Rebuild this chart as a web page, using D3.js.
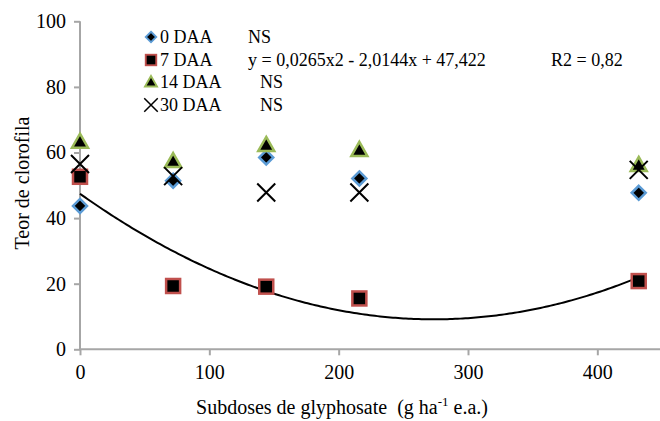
<!DOCTYPE html>
<html>
<head>
<meta charset="utf-8">
<script src="https://cdn.jsdelivr.net/npm/d3@7"></script>
<style>
  body { margin: 0; background: #fff; }
</style>
</head>
<body>
<svg id="chart" width="660" height="421"></svg>
<script>
// doses (g ha-1 e.a.)
const doses = [0, 72, 144, 216, 432];
const daa0 = [43.7, 51.4, 58.5, 52.1, 47.7];
const daa7 = [52.6, 19.3, 19.1, 15.5, 20.8];
const daa14 = [63.3, 57.4, 62.3, 60.8, 56.2];
const daa30 = [56.5, 52.8, 47.8, 47.8, 54.7];
const xTicks = [0, 100, 200, 300, 400];
const yTicks = [0, 20, 40, 60, 80, 100];
// trend for 7 DAA, x given as % of 720 g
const fit = { a: 0.0265, b: -2.0144, c: 47.422, unit: 7.2 };

const serif = "'Liberation Serif', 'DejaVu Serif', serif";

const svg = d3.select('#chart')
  .style('font-family', serif);
const x = d3.scaleLinear().domain([0, 450]).range([80, 662]);
const y = d3.scaleLinear().domain([0, 100]).range([349.3, 21.3]);

const axisColor = '#a6a6a6';

// axes
const xAxis = svg.append('g')
  .attr('transform', 'translate(0,349.3)')
  .call(d3.axisBottom(x).tickValues(xTicks).tickSize(6).tickPadding(10));
const yAxis = svg.append('g')
  .attr('transform', 'translate(80,0)')
  .call(d3.axisLeft(y).tickValues(yTicks).tickSize(6).tickPadding(8));
[xAxis, yAxis].forEach((g) => {
  g.attr('font-family', serif).attr('font-size', 20);
  g.selectAll('path, line').attr('stroke', axisColor).attr('stroke-width', 2);
  g.selectAll('text').attr('fill', '#000');
});
xAxis.select('.domain').attr('d', `M${x(0)},0H660`);
yAxis.select('.domain').attr('d', `M0,${y(0)}V${y(100)}`);

// axis titles
svg.append('text')
  .attr('x', 342).attr('y', 414)
  .attr('text-anchor', 'middle')
  .attr('font-family', serif)
  .attr('font-size', 20)
  .html('Subdoses de glyphosate&#160;&#160;(g ha<tspan dy="-8" font-size="13">-1</tspan><tspan dy="8"> e.a.)</tspan>');

svg.append('text')
  .attr('transform', 'translate(29,183) rotate(-90)')
  .attr('text-anchor', 'middle')
  .attr('font-family', serif)
  .attr('font-size', 20)
  .text('Teor de clorofila');

// trend line
const curve = d3.range(0, 432.5, 2).map((d) => {
  const u = d / fit.unit;
  return [d, fit.a * u * u + fit.b * u + fit.c];
});
svg.append('path')
  .datum(curve)
  .attr('fill', 'none')
  .attr('stroke', '#000')
  .attr('stroke-width', 2)
  .attr('d', d3.line().x((d) => x(d[0])).y((d) => y(d[1])));

// marker drawers
const markers = {
  diamond: (g) => g.append('path').attr('d', 'M0,-7L7,0L0,7L-7,0Z')
    .attr('fill', '#000').attr('stroke', '#5b9bd5').attr('stroke-width', 2.5),
  square: (g) => g.append('rect').attr('x', -7).attr('y', -7).attr('width', 14).attr('height', 14)
    .attr('fill', '#000').attr('stroke', '#c0504d').attr('stroke-width', 2.5),
  triangle: (g) => g.append('path').attr('d', 'M0,-8L8,6L-8,6Z')
    .attr('fill', '#000').attr('stroke', '#9bbb59').attr('stroke-width', 2.5),
  cross: (g) => g.append('path').attr('d', 'M-9,-9L9,9M-9,9L9,-9')
    .attr('fill', 'none').attr('stroke', '#000').attr('stroke-width', 2)
};

const series = [
  { name: '0 DAA', values: daa0, shape: 'diamond', note: 'NS', nx: 248 },
  { name: '7 DAA', values: daa7, shape: 'square', note: 'y = 0,0265x2 - 2,0144x + 47,422', nx: 248, r2: 'R2 = 0,82' },
  { name: '14 DAA', values: daa14, shape: 'triangle', note: 'NS', nx: 260 },
  { name: '30 DAA', values: daa30, shape: 'cross', note: 'NS', nx: 260 }
];

series.forEach((s) => {
  doses.forEach((d, i) => {
    const g = svg.append('g').attr('transform', `translate(${x(d)},${y(s.values[i])})`);
    markers[s.shape](g);
  });
});

// legend
const rowY = [37, 60, 82, 105];
const legend = svg.append('g').attr('font-family', serif).attr('font-size', 18);
series.forEach((s, i) => {
  const g = legend.append('g').attr('transform', `translate(151,${rowY[i]})`);
  const m = g.append('g').attr('transform', 'scale(0.75)');
  markers[s.shape](m);
  g.append('text').attr('x', 9).attr('y', 6).text(s.name);
  legend.append('text').attr('x', s.nx).attr('y', rowY[i] + 6).text(s.note);
  if (s.r2) legend.append('text').attr('x', 551).attr('y', rowY[i] + 6).text(s.r2);
});
</script>
</body>
</html>
